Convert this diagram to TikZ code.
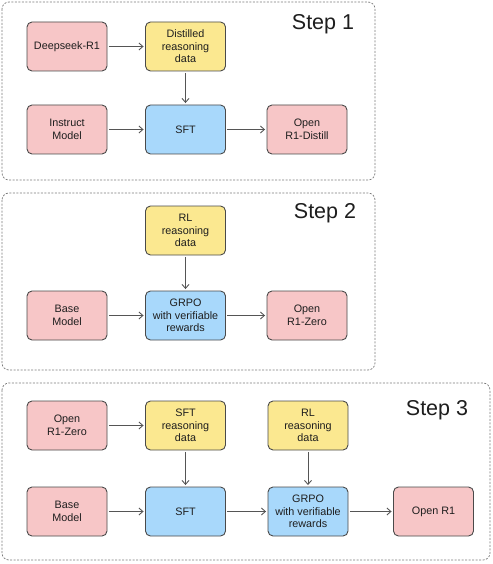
\documentclass[tikz,border=0pt]{standalone}
\usepackage{fontspec}
\setmainfont{Liberation Sans}
\usetikzlibrary{arrows.meta}
\definecolor{pinkf}{HTML}{F7C6C7}
\definecolor{yellowf}{HTML}{FBE890}
\definecolor{bluef}{HTML}{A8D8FB}
\definecolor{edge}{HTML}{4A4A4A}
\definecolor{arrowc}{HTML}{555555}
\definecolor{txt}{HTML}{1E1E1E}
\definecolor{dashc}{HTML}{7A7A7A}
\tikzset{
  box/.style={draw=edge, line width=0.9pt, rounded corners=5pt, minimum width=80pt, minimum height=49pt,
    align=center, text=txt, font=\fontsize{10.8}{12.6}\selectfont, inner sep=2pt},
  pinkbox/.style={box, fill=pinkf},
  yellowbox/.style={box, fill=yellowf},
  bluebox/.style={box, fill=bluef},
  arr/.style={draw=arrowc, line width=0.9pt, -{Straight Barb[length=4pt,width=7pt]}, shorten >=1.5pt, shorten <=1.5pt},
  stepframe/.style={draw=dashc, line width=0.7pt, dash pattern=on 2pt off 1.5pt, rounded corners=7pt, fill=white},
  steptitle/.style={font=\fontsize{21.5}{24}\selectfont, text=txt}
}
\begin{document}
\begin{tikzpicture}[x=1pt,y=-1pt]
\useasboundingbox[fill=white] (0,0) rectangle (492,564);
% frames
\draw[stepframe] (2,2) rectangle (375,180);
\draw[stepframe] (2,193) rectangle (375,370);
\draw[stepframe] (2,383) rectangle (490,560);
\node[steptitle] (t1) at (323,24) {Step 1};
\node[steptitle] (t2) at (325,213) {Step 2};
\node[steptitle] (t3) at (437,410) {Step 3};
% Step 1
\node[pinkbox] (ds) at (67,46.5) {Deepseek-R1};
\node[yellowbox] (dist) at (185.5,46.5) {Distilled\\reasoning\\data};
\node[pinkbox] (inst) at (67,129.5) {Instruct\\Model};
\node[bluebox] (sft1) at (185.5,129.5) {SFT};
\node[pinkbox] (od) at (307,129.5) {Open\\R1-Distill};
\draw[arr] (ds) -- (dist);
\draw[arr] (dist) -- (sft1);
\draw[arr] (inst) -- (sft1);
\draw[arr] (sft1) -- (od);
% Step 2
\node[yellowbox] (rl2) at (185.5,230.5) {RL\\reasoning\\data};
\node[pinkbox] (base2) at (67,315.5) {Base\\Model};
\node[bluebox] (grpo2) at (185.5,315.5) {GRPO\\with verifiable\\rewards};
\node[pinkbox] (oz) at (307,315.5) {Open\\R1-Zero};
\draw[arr] (rl2) -- (grpo2);
\draw[arr] (base2) -- (grpo2);
\draw[arr] (grpo2) -- (oz);
% Step 3
\node[pinkbox] (oz3) at (67,425.5) {Open\\R1-Zero};
\node[yellowbox] (sftd) at (185.5,425.5) {SFT\\reasoning\\data};
\node[yellowbox] (rl3) at (308,425.5) {RL\\reasoning\\data};
\node[pinkbox] (base3) at (67,511.5) {Base\\Model};
\node[bluebox] (sft3) at (185.5,511.5) {SFT};
\node[bluebox] (grpo3) at (308,511.5) {GRPO\\with verifiable\\rewards};
\node[pinkbox] (or1) at (433.5,511.5) {Open R1};
\draw[arr] (oz3) -- (sftd);
\draw[arr] (sftd) -- (sft3);
\draw[arr] (rl3) -- (grpo3);
\draw[arr] (base3) -- (sft3);
\draw[arr] (sft3) -- (grpo3);
\draw[arr] (grpo3) -- (or1);
\end{tikzpicture}
\end{document}
